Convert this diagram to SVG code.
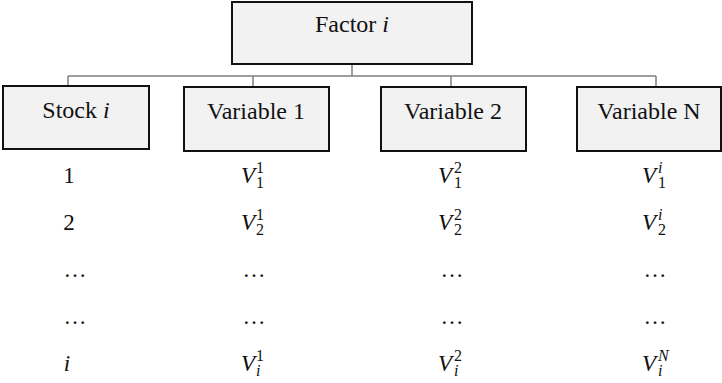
<svg xmlns="http://www.w3.org/2000/svg" width="722" height="383" viewBox="0 0 722 383">
  <style>
    text { font-family: "Liberation Serif", "Times New Roman", serif; fill: #111; }
    .box { fill: #f2f2f2; stroke: #111; stroke-width: 2; }
    .lbl { font-size: 24px; text-anchor: middle; }
    .cell { font-size: 23px; }
    .mid { text-anchor: middle; }
    .it { font-style: italic; }
    .idx { font-size: 16px; }
    .wire { fill: none; stroke: #808080; stroke-width: 1.5; }
  </style>

  <!-- tree connectors -->
  <g id="connectors">
    <path class="wire" d="M352 64 V76 M68 76 H656 M68 76 V86 M253 76 V87 M451 76 V87 M656 76 V87"/>
  </g>

  <g id="factor">
    <rect class="box" x="232" y="2" width="240" height="62"/>
    <text class="lbl" x="352" y="32">Factor <tspan class="it">i</tspan></text>
  </g>

  <g id="stock">
    <rect class="box" x="3" y="86" width="146" height="63"/>
    <text class="lbl" x="76" y="118">Stock <tspan class="it">i</tspan></text>
  </g>

  <g id="variable1">
    <rect class="box" x="184" y="87" width="145" height="64"/>
    <text class="lbl" x="256" y="119">Variable 1</text>
  </g>

  <g id="variable2">
    <rect class="box" x="381" y="87" width="145" height="64"/>
    <text class="lbl" x="453" y="119">Variable 2</text>
  </g>

  <g id="variableN">
    <rect class="box" x="577" y="87" width="144" height="64"/>
    <text class="lbl" x="649" y="119">Variable N</text>
  </g>

  <!-- stock column values -->
  <g id="stock-values">
    <text class="cell mid" x="69" y="183">1</text>
    <text class="cell mid" x="69" y="230">2</text>
    <text class="cell mid" x="75" y="277">…</text>
    <text class="cell mid" x="75" y="324">…</text>
    <text class="cell mid it" x="67" y="371">i</text>
  </g>

  <!-- variable 1 column values: V with superscript then subscript -->
  <g id="variable1-values">
    <text class="cell it" x="241" y="183">V<tspan class="idx" x="256" dy="-10" font-style="normal">1</tspan><tspan class="idx" x="256" dy="15" font-style="normal">1</tspan></text>
    <text class="cell it" x="241" y="230">V<tspan class="idx" x="256" dy="-10" font-style="normal">1</tspan><tspan class="idx" x="256" dy="15" font-style="normal">2</tspan></text>
    <text class="cell mid" x="254" y="277">…</text>
    <text class="cell mid" x="254" y="324">…</text>
    <text class="cell it" x="241" y="371">V<tspan class="idx" x="256" dy="-10" font-style="normal">1</tspan><tspan class="idx" x="256" dy="15">i</tspan></text>
  </g>

  <!-- variable 2 column values -->
  <g id="variable2-values">
    <text class="cell it" x="438" y="183">V<tspan class="idx" x="454" dy="-10" font-style="normal">2</tspan><tspan class="idx" x="454" dy="15" font-style="normal">1</tspan></text>
    <text class="cell it" x="438" y="230">V<tspan class="idx" x="454" dy="-10" font-style="normal">2</tspan><tspan class="idx" x="454" dy="15" font-style="normal">2</tspan></text>
    <text class="cell mid" x="452" y="277">…</text>
    <text class="cell mid" x="452" y="324">…</text>
    <text class="cell it" x="438" y="371">V<tspan class="idx" x="454" dy="-10" font-style="normal">2</tspan><tspan class="idx" x="454" dy="15">i</tspan></text>
  </g>

  <!-- variable N column values -->
  <g id="variableN-values">
    <text class="cell it" x="642" y="183">V<tspan class="idx" x="658" dy="-10">i</tspan><tspan class="idx" x="658" dy="15" font-style="normal">1</tspan></text>
    <text class="cell it" x="642" y="230">V<tspan class="idx" x="658" dy="-10">i</tspan><tspan class="idx" x="658" dy="15" font-style="normal">2</tspan></text>
    <text class="cell mid" x="655" y="277">…</text>
    <text class="cell mid" x="655" y="324">…</text>
    <text class="cell it" x="642" y="371">V<tspan class="idx" x="658" dy="-10">N</tspan><tspan class="idx" x="658" dy="15">i</tspan></text>
  </g>
</svg>
